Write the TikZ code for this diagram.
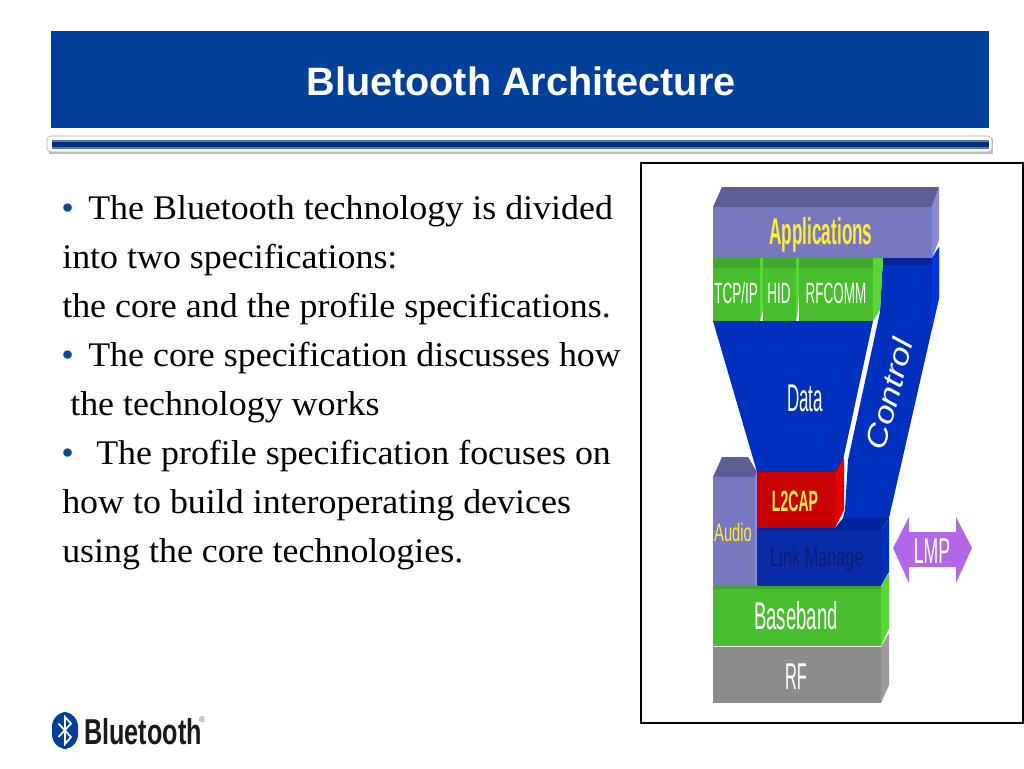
\documentclass[tikz,border=0pt]{standalone}
\usepackage{fontspec}
\setmainfont[FakeStretch=1.04]{Liberation Serif}
\newfontfamily\headfont{Liberation Sans}
\newcommand{\slim}[2]{\scalebox{#1}[1]{#2}}
\definecolor{titleblue}{HTML}{00409A}
\definecolor{rulenavy}{HTML}{002F7E}
\definecolor{bulletblue}{HTML}{0B4A8F}
\definecolor{stackblue}{HTML}{0030BE}
\definecolor{bandblue}{HTML}{00249C}
\definecolor{edgeblue}{HTML}{0034E0}
\definecolor{linkblue}{HTML}{0A2CA8}
\definecolor{linktext}{HTML}{0A1E78}
\definecolor{slate}{HTML}{7878C0}
\definecolor{slatetop}{HTML}{5E5E96}
\definecolor{slateside}{HTML}{8A8AD8}
\definecolor{leaf}{HTML}{48BE2E}
\definecolor{leaftop}{HTML}{40A82C}
\definecolor{leafside}{HTML}{58D838}
\definecolor{ruby}{HTML}{C80000}
\definecolor{rubyside}{HTML}{E40000}
\definecolor{stone}{HTML}{8C8C8C}
\definecolor{stoneside}{HTML}{9C9C9C}
\definecolor{lilac}{HTML}{B268E6}
\definecolor{lemon}{HTML}{FFEE38}
\tikzset{
  body/.style={anchor=base west, inner sep=0pt, font=\fontsize{25.9}{30}\selectfont},
  dot/.style={anchor=base west, inner sep=0pt, text=bulletblue, font=\fontsize{25.9}{30}\selectfont},
  tag/.style={inner sep=0pt, font=\headfont\fontsize{#1}{#1}\selectfont},
  tag/.default=24
}

\begin{document}
\begin{tikzpicture}[x=0.75pt, y=-0.75pt]

\useasboundingbox (0, 0) rectangle (1024, 768);

\fill[titleblue] (51, 31) rectangle (989, 128);
\node (title) [text=white, inner sep=0pt, font=\headfont\bfseries\fontsize{29.7}{32}\selectfont] at (521, 81) {Bluetooth Architecture};

\fill[black!25] (49, 139) rectangle (993, 154);
\draw[black!35, fill=white, rounded corners=3] (47, 136) rectangle (992, 152);
\fill[rulenavy!65] (52, 140) rectangle (989, 149);
\fill[rulenavy] (52, 142) rectangle (989, 147);

\node (dotone) [dot] at (61, 219) {•};
\node (lineone) [body] at (88, 219) {The Bluetooth technology is divided};
\node (linetwo) [body] at (62, 268) {into two specifications:};
\node (linethree) [body] at (62, 317) {the core and the profile specifications.};
\node (dottwo) [dot] at (61, 366) {•};
\node (linefour) [body] at (88, 366) {The core specification discusses how};
\node (linefive) [body] at (70, 415) {the technology works};
\node (dotthree) [dot] at (61, 464) {•};
\node (linesix) [body] at (96, 464) {The profile specification focuses on};
\node (lineseven) [body] at (62, 513) {how to build interoperating devices};
\node (lineeight) [body] at (62, 562) {using the core technologies.};

\fill[titleblue, rounded corners=11] (52, 712) rectangle (78, 749);
\draw[white, line width=1.3pt] (58.5, 723.5) -- (71, 737) -- (65, 744) -- (65, 717) -- (71, 723.5) -- (58.5, 737);
\node (brand) [anchor=base west, inner sep=0pt, text=black!90, font=\headfont\bfseries\fontsize{27}{30}\selectfont] at (84, 744) {\slim{.7}{Bluetooth}};
\node (mark) [inner sep=0pt, text=black!60, font=\headfont\fontsize{6}{6}\selectfont] at (202, 720) {®};

\draw[black, line width=1.5pt] (641, 163) rectangle (1023, 723);

\fill[stackblue] (883, 258) -- (932, 258) -- (939, 247) -- (939, 298) -- (889, 518) -- (843, 518) -- (845, 510) -- (848, 460) -- (880, 312) -- cycle;
\fill[edgeblue] (932, 258) -- (939, 247) -- (939, 298) -- (932, 328) -- cycle;
\fill[bandblue] (883, 258) rectangle (932, 265);
\node (control) [text=white, rotate=75, tag=22] at (889, 394) {\slim{1.2}{\itshape Control}};

\fill[stackblue] (713, 321) -- (873, 321) -- (843, 460) -- (840, 472) -- (757, 472) -- cycle;
\node (data) [text=white, tag=29] at (805, 398) {\slim{.44}{Data}};

\fill[slatetop] (713, 207) -- (722, 187) -- (939, 187) -- (932, 207) -- cycle;
\fill[slateside] (932, 207) -- (939, 187) -- (939, 240) -- (932, 258) -- cycle;
\fill[slate] (713, 207) rectangle (932, 258);
\node (apps) [text=lemon, tag=28] at (821, 235) {\slim{.46}{\bfseries Applications}};

\fill[leafside] (760, 258) -- (766, 258) -- (763, 310) -- (760, 321) -- cycle;
\fill[leafside] (795, 258) -- (801, 258) -- (798, 310) -- (796, 321) -- cycle;
\fill[leafside] (873, 258) -- (883, 258) -- (880, 310) -- (873, 321) -- cycle;
\fill[leaf] (713, 258) rectangle (760, 321);
\fill[leaf] (763, 258) rectangle (796, 321);
\fill[leaf] (799, 258) rectangle (873, 321);
\fill[leaftop] (713, 258) rectangle (760, 268);
\fill[leaftop] (763, 258) rectangle (796, 268);
\fill[leaftop] (799, 258) rectangle (873, 268);
\node (tcpip) [text=white, tag=22] at (736, 293) {\slim{.46}{TCP/IP}};
\node (hid) [text=white, tag=22] at (779, 293) {\slim{.46}{HID}};
\node (rfcomm) [text=white, tag=22] at (836, 293) {\slim{.46}{RFCOMM}};

\fill[slatetop] (713, 477) -- (722, 457) -- (748, 457) -- (757, 472) -- (755, 477) -- cycle;
\fill[slateside] (755, 477) -- (757, 472) -- (757, 586) -- (755, 586) -- cycle;
\fill[slate] (713, 477) rectangle (755, 586);
\node (audio) [text=lemon, tag=19] at (733, 532) {\slim{.58}{Audio}};

\fill[rubyside] (835, 472) -- (844, 458) -- (844, 510) -- (835, 528) -- cycle;
\fill[ruby] (757, 472) rectangle (835, 528);
\node (ltwocap) [text=lemon, tag=22] at (795, 501) {\slim{.48}{\bfseries L2CAP}};

\fill[bandblue] (757, 528) -- (835, 528) -- (843, 518) -- (889, 518) -- (881, 530) -- (757, 530) -- cycle;
\fill[stackblue] (881, 530) -- (889, 518) -- (889, 572) -- (881, 586) -- cycle;
\fill[linkblue] (757, 530) rectangle (881, 586);
\node (link) [text=linktext, tag=20] at (817, 560) {\slim{.61}{Link Manage}};

\fill[leaftop] (713, 586) rectangle (881, 589);
\fill[leafside] (881, 587) -- (889, 573) -- (889, 628) -- (881, 646) -- cycle;
\fill[leaf] (713, 589) rectangle (881, 646);
\node (baseband) [text=white, tag=29] at (796, 616) {\slim{.48}{Baseband}};

\fill[stoneside] (881, 647) -- (889, 633) -- (889, 685) -- (881, 703) -- cycle;
\fill[stone] (713, 647) rectangle (881, 703);
\node (rf) [text=white, tag=28] at (796, 677) {\slim{.44}{RF}};

\fill[lilac] (893, 548) -- (909, 517) -- (909, 532) -- (956, 532) -- (956, 517) -- (972, 548) -- (956, 583) -- (956, 567) -- (909, 567) -- (909, 583) -- cycle;
\node (lmp) [text=white, tag=27] at (932, 551) {\slim{.49}{LMP}};

\end{tikzpicture}
\end{document}
